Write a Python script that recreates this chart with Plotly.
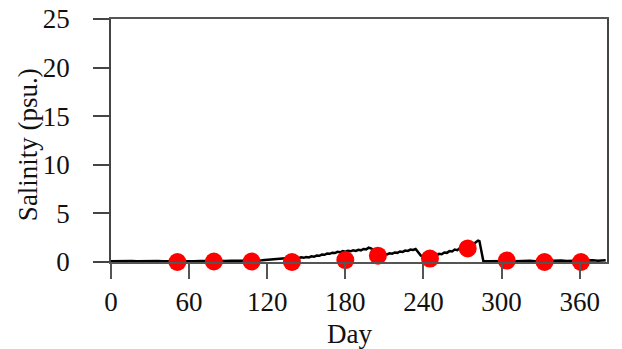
import plotly.graph_objects as go

# Continuous salinity record (day, psu)
days = [0, 4, 8, 12, 16, 20, 24, 28, 32, 36, 40, 44, 48, 52, 56, 60, 64, 68, 72, 76,
        80, 84, 88, 92, 96, 100, 104, 108, 112, 116, 120, 123, 126, 129, 132, 134, 136,
        138, 140, 142, 144, 146, 148, 150, 152, 154, 156, 158, 160, 162, 164, 166, 168,
        170, 172, 174, 176, 178, 180, 182, 184, 186, 188, 190, 192, 194, 196, 198, 200,
        202, 204, 206, 208, 210, 212, 214, 216, 218, 220, 222, 224, 226, 228, 230, 232,
        234, 236, 238, 240, 242, 244, 246, 248, 250, 252, 254, 256, 258, 260, 262, 264,
        266, 268, 270, 272, 274, 276, 278, 280, 281, 282, 283, 286, 290, 294, 298, 302,
        306, 310, 314, 318, 322, 326, 330, 334, 338, 342, 346, 350, 354, 358, 362, 366,
        370, 374, 378, 380]
salinity = [0.08, 0.10, 0.07, 0.09, 0.11, 0.08, 0.10, 0.07, 0.09, 0.10, 0.08, 0.11, 0.09,
            0.07, 0.10, 0.12, 0.09, 0.11, 0.08, 0.10, 0.12, 0.09, 0.11, 0.13, 0.10, 0.12,
            0.15, 0.13, 0.16, 0.18, 0.22, 0.28, 0.24, 0.33, 0.30, 0.38, 0.33, 0.41, 0.36,
            0.45, 0.40, 0.48, 0.43, 0.52, 0.47, 0.58, 0.55, 0.66, 0.64, 0.76, 0.74, 0.86,
            0.84, 0.96, 0.92, 1.05, 1.00, 1.12, 1.06, 1.16, 1.10, 1.20, 1.14, 1.26, 1.20,
            1.34, 1.30, 1.48, 1.38, 1.08, 0.88, 0.80, 0.74, 0.82, 0.78, 0.90, 0.86, 0.98,
            0.94, 1.08, 1.04, 1.18, 1.14, 1.28, 1.24, 1.34, 1.02, 0.66, 0.58, 0.52, 0.62,
            0.58, 0.72, 0.68, 0.84, 0.80, 0.98, 0.94, 1.12, 1.08, 1.28, 1.22, 1.44, 1.38,
            1.62, 1.56, 1.80, 1.74, 2.00, 2.10, 2.20, 2.15, 0.10, 0.08, 0.10, 0.12, 0.09,
            0.11, 0.08, 0.12, 0.10, 0.13, 0.09, 0.11, 0.14, 0.10, 0.12, 0.15, 0.11, 0.13,
            0.16, 0.12, 0.14, 0.17, 0.13, 0.15, 0.18, 0.16]

# Discrete samples
sample_days = [51, 79, 108, 139, 180, 205, 245, 274, 304, 333, 361]
sample_sal = [0.0, 0.05, 0.05, 0.0, 0.2, 0.65, 0.35, 1.4, 0.15, 0.0, 0.0]

x_ticks = [0, 60, 120, 180, 240, 300, 360]
y_ticks = [0, 5, 10, 15, 20, 25]

fig = go.Figure()
fig.add_trace(go.Scatter(x=days, y=salinity, mode="lines",
                         line=dict(color="black", width=2.5), showlegend=False))
fig.add_trace(go.Scatter(x=sample_days, y=sample_sal, mode="markers",
                         marker=dict(color="#ff0000", size=18, line=dict(width=0)),
                         showlegend=False, cliponaxis=False))

font = dict(family="Liberation Serif, Times New Roman, serif", size=27, color="#111")

fig.update_layout(
    width=622, height=349,
    margin=dict(l=111, r=15, t=19, b=87, autoexpand=False),
    paper_bgcolor="white", plot_bgcolor="white",
    font=font,
    annotations=[
        dict(text="Day", xref="paper", yref="paper", x=0.48, y=-0.297,
             xanchor="center", yanchor="middle", showarrow=False, font=font),
        dict(text="Salinity (psu.)", xref="paper", yref="paper", x=-0.1673, y=0.481,
             xanchor="center", yanchor="middle", textangle=-90, showarrow=False,
             font=font),
    ],
)
fig.update_xaxes(
    range=[0, 381], tickvals=x_ticks, ticks="outside", ticklen=15, tickwidth=1.5,
    tickcolor="#555", showgrid=False, zeroline=False, showline=True, linecolor="#555",
    linewidth=1.5, mirror=True, automargin=False,
)
fig.update_yaxes(
    range=[0, 25], tickvals=y_ticks, ticks="outside", ticklen=16, tickwidth=1.5,
    tickcolor="#444", showgrid=False, zeroline=False, showline=True, linecolor="#444",
    linewidth=1.5, mirror=True, automargin=False, ticklabelstandoff=18,
)

fig.write_html("out.html", config={"displayModeBar": False},
               post_script="document.body.style.margin='0';")
